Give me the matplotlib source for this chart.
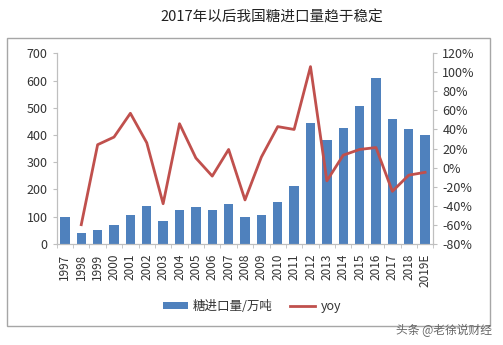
import matplotlib
matplotlib.use("Agg")
import matplotlib.pyplot as plt
from matplotlib.patches import Rectangle
from matplotlib.ticker import FuncFormatter
import numpy as np

plt.rcParams['font.family'] = ['Noto Sans CJK SC', 'DejaVu Sans']

years = ['1997', '1998', '1999', '2000', '2001', '2002', '2003', '2004', '2005', '2006',
         '2007', '2008', '2009', '2010', '2011', '2012', '2013', '2014', '2015', '2016',
         '2017', '2018', '2019E']
imports = [99, 40, 50, 69, 107, 137, 83, 124, 135, 123,
           147, 97, 107, 153, 212, 442, 380, 427, 505, 610,
           460, 420, 398]
yoy = [np.nan, -60, 24, 32, 57, 26, -38, 46, 10, -9,
       19, -34, 11, 43, 40, 106, -14, 13, 19, 21,
       -25, -8, -5]

title = '2017年以后我国糖进口量趋于稳定'
bar_label = '糖进口量/万吨'
line_label = 'yoy'
watermark = '头条 @老徐说财经'

W, H = 503, 345
fig = plt.figure(figsize=(W / 100, H / 100), dpi=100)
fig.patch.set_facecolor('white')

# chart frame
fig.add_artist(Rectangle((7 / W, 1 - 326 / H), (490 - 7) / W, (326 - 38) / H,
                         transform=fig.transFigure, fill=False,
                         edgecolor='#a6a6a6', linewidth=1))

ax = fig.add_axes([56.7 / W, 1 - 243.7 / H, (433.3 - 56.7) / W, (243.7 - 53.3) / H])
ax2 = ax.twinx()

x = np.arange(len(years))
bars = ax.bar(x, imports, width=0.57, color='#4f81bd', label=bar_label, zorder=2)
line, = ax2.plot(x, yoy, color='#c0504d', linewidth=2, label=line_label, zorder=3)

ax.set_xlim(-0.5, len(years) - 0.5)
ax.set_ylim(0, 700)
ax.set_yticks(np.arange(0, 701, 100))
ax2.set_ylim(-80, 120)
ax2.set_yticks(np.arange(-80, 121, 20))
ax2.yaxis.set_major_formatter(FuncFormatter(lambda v, p: '%d%%' % v))

ax.set_xticks(x)
ax.set_xticklabels(years, rotation=90)
ax.set_xticks(np.arange(-0.5, len(years), 1), minor=True)
ax.tick_params(axis='x', which='major', length=0, pad=7)
ax.tick_params(axis='x', which='minor', length=3, color='#bfbfbf')

for a in (ax, ax2):
    a.set_facecolor('none')
    for s in a.spines.values():
        s.set_color('#bfbfbf')
    a.spines['top'].set_visible(False)
    a.tick_params(axis='y', length=3, color='#bfbfbf', labelsize=9, labelcolor='#333333')
    a.tick_params(axis='x', labelsize=8.5, labelcolor='#333333')
ax.set_zorder(ax2.get_zorder() - 1)
ax2.patch.set_visible(False)

fig.text(272 / W, 1 - 17 / H, title, ha='center', va='center', fontsize=10.5,
         color='#222222', fontweight='light')

fig.legend([bars, line], [bar_label, line_label], loc='center',
           bbox_to_anchor=(252 / W, 1 - 306 / H), ncol=2, frameon=False,
           fontsize=9, handlelength=2.0, handleheight=0.5, columnspacing=1.4,
           handletextpad=0.4, labelcolor='#333333')

fig.text(492 / W, 1 - 330 / H, watermark, ha='right', va='center', fontsize=8.5,
         color='#666666')

fig.savefig('out.png', dpi=100, facecolor='white')
